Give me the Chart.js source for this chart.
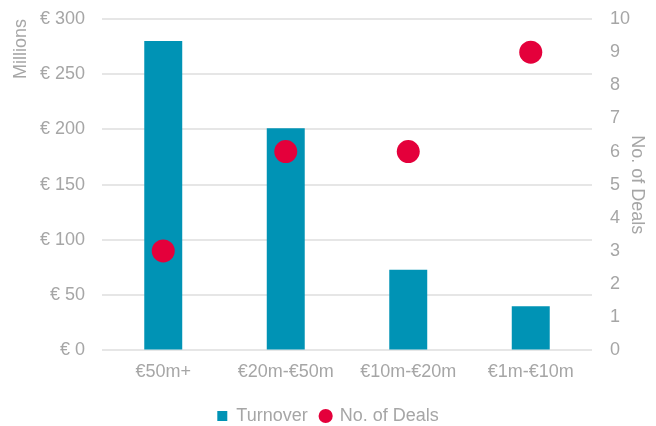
<!DOCTYPE html>
<html>
<head>
<meta charset="utf-8">
<script src="https://cdn.jsdelivr.net/npm/chart.js@4"></script>
<style>
  html, body { margin: 0; padding: 0; background: #fff; }
  #chart { display: block; }
</style>
</head>
<body>
<canvas id="chart" width="656" height="426"></canvas>
<script>
// Datos del gráfico
const categories = ['€50m+', '€20m-€50m', '€10m-€20m', '€1m-€10m'];
const turnover = [280, 201, 73, 40];
const deals = [3, 6, 6, 9];

const grey = '#a6a6a6';
const font = { family: 'Liberation Sans, Arial, sans-serif', size: 18 };

// Quitar el relleno automático de las escalas verticales
function fitVertical(width) {
    return s => {
        s.width = width;
        s.paddingTop = 0;
        s.paddingBottom = 0;
    };
}

const ctx = document.getElementById('chart').getContext('2d');
const chart = new Chart(ctx, {
    type: 'bar',
    data: {
        labels: categories,
        datasets: [{
            label: 'Turnover',
            data: turnover,
            backgroundColor: '#0093b5',
            borderWidth: 0,
            barPercentage: 0.62,
            categoryPercentage: 0.5,
            pointStyle: 'rect',
            yAxisID: 'y',
            order: 2
        }, {
            type: 'line',
            label: 'No. of Deals',
            data: deals,
            showLine: false,
            pointRadius: 11.5,
            pointHoverRadius: 11.5,
            pointStyle: 'circle',
            backgroundColor: '#e4003b',
            borderColor: '#e4003b',
            borderWidth: 0,
            yAxisID: 'y1',
            order: 1
        }]
    },
    options: {
        responsive: false,
        animation: false,
        layout: { padding: { top: 19, bottom: -9 } },
        scales: {
            x: {
                grid: { display: false, drawTicks: false },
                border: { display: false },
                ticks: { color: grey, font: font, padding: 11 }
            },
            y: {
                position: 'left',
                min: 0,
                max: 300,
                ticks: {
                    stepSize: 50,
                    color: grey,
                    font: font,
                    padding: 17,
                    callback: v => '€ ' + v
                },
                grid: { color: '#e6e6e6', lineWidth: 2, drawTicks: false },
                border: { display: false },
                title: {
                    display: true, text: 'Millions', color: grey, font: font,
                    align: 'end', padding: { top: 10, bottom: 0 }
                },
                afterFit: fitVertical(102)
            },
            y1: {
                position: 'right',
                min: 0,
                max: 10,
                ticks: { stepSize: 1, color: grey, font: font, padding: 18 },
                grid: { display: false, drawTicks: false },
                border: { display: false },
                title: {
                    display: true, text: 'No. of Deals', color: grey, font: font,
                    padding: { top: 8, bottom: 0 }
                },
                afterFit: fitVertical(64)
            }
        },
        plugins: {
            legend: {
                position: 'bottom',
                labels: {
                    color: grey,
                    font: font,
                    usePointStyle: true,
                    boxWidth: 10,
                    boxHeight: 10,
                    padding: 13,
                    sort: (a, b) => a.datasetIndex - b.datasetIndex
                }
            },
            tooltip: { enabled: false }
        }
    }
});
</script>
</body>
</html>
